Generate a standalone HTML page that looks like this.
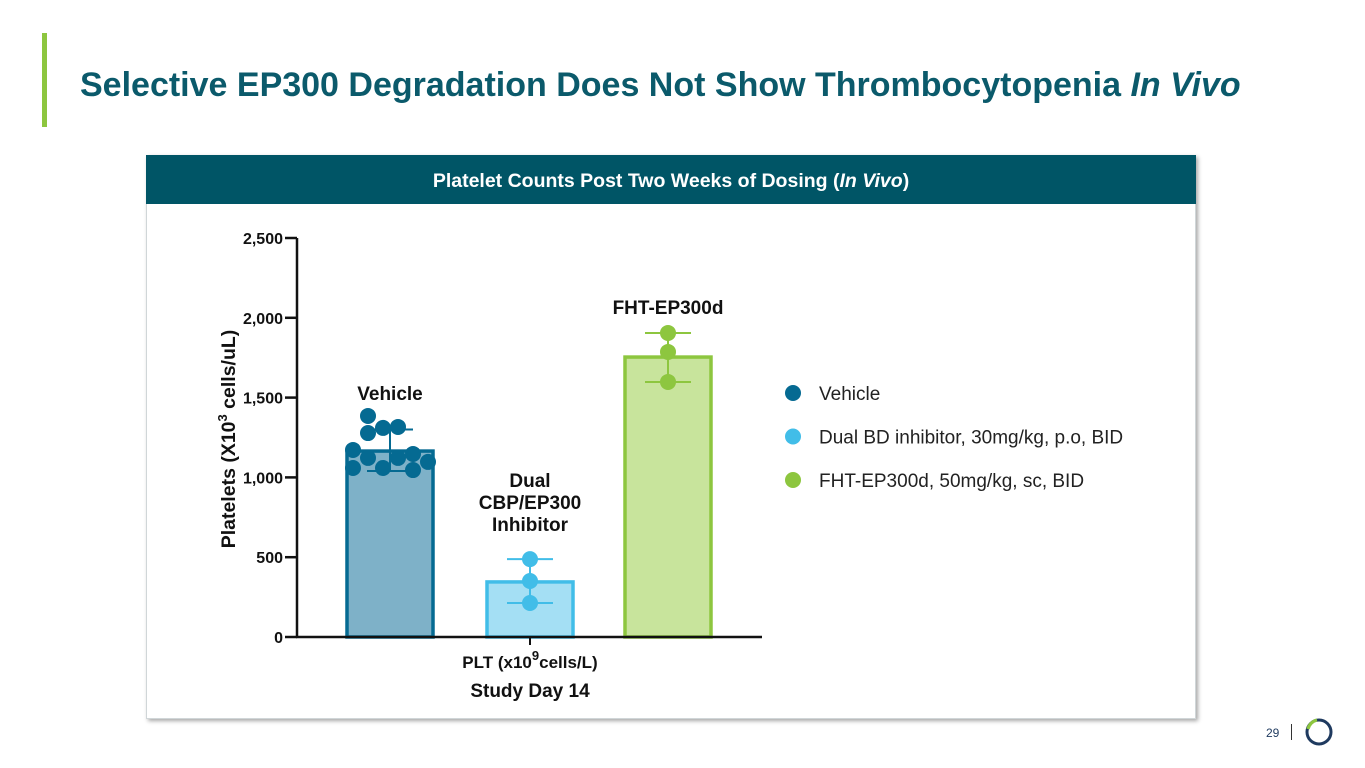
<!DOCTYPE html>
<html><head><meta charset="utf-8">
<style>
body{margin:0;width:1365px;height:768px;background:#fff;position:relative;overflow:hidden;font-family:"Liberation Sans",Arial,sans-serif}
.abs{position:absolute}
</style></head><body>
<div class="abs" style="left:42px;top:33px;width:5px;height:94px;background:#8dc63f"></div>
<div class="abs" style="left:80px;top:66px;font-size:34px;font-weight:bold;color:#0b5a6b;white-space:nowrap">Selective EP300 Degradation Does Not Show Thrombocytopenia <i>In Vivo</i></div>
<div class="abs" style="left:146px;top:155px;width:1048px;height:562px;border:1px solid #d0d6d8;box-shadow:2px 2px 4px rgba(0,0,0,0.35);background:#fff"></div>
<div class="abs" style="left:146px;top:155px;width:1050px;height:49px;background:#005566;color:#fff;font-size:19.5px;font-weight:bold;text-align:center;line-height:52px">Platelet Counts Post Two Weeks of Dosing (<i>In Vivo</i>)</div>
<svg class="abs" style="left:0;top:0" width="1365" height="768">
<g id="g"></g>
</svg>
<div class="abs" style="left:1266px;top:726px;font-size:12px;color:#1f3a5f">29</div>
<div class="abs" style="left:1291px;top:724px;width:1px;height:16px;background:#333"></div>
<svg class="abs" style="left:1303px;top:716px" width="32" height="32">
<circle cx="16" cy="16" r="12" fill="none" stroke="#1f3a5f" stroke-width="3"/>
<path d="M5 13 A12 12 0 0 1 14 4" fill="none" stroke="#8dc63f" stroke-width="3.2"/>
</svg>
<script>
const categories=["Vehicle","Dual CBP/EP300 Inhibitor","FHT-EP300d"];
const means=[1165,345,1754];
const errLow=[1040,213,1598];
const errHigh=[1300,488,1905];
const pts0=[1172,1059,1385,1278,1122,1310,1059,1316,1122,1147,1046,1097];
const pts1=[488,351,213];
const pts2=[1905,1786,1598];
const yTicks=[0,500,1000,1500,2000,2500];
const yTickLabels=["0","500","1,000","1,500","2,000","2,500"];
const legendLabels=["Vehicle","Dual BD inhibitor, 30mg/kg, p.o, BID","FHT-EP300d, 50mg/kg, sc, BID"];
const jit0=[-37,-37,-22,-22,-22,-7,-7,8,8,23,23,38];
const NS="http://www.w3.org/2000/svg";
const g=document.getElementById('g');
const y0=637,yTop=238,yMax=2500;
const Y=v=>y0-(v/yMax)*(y0-yTop);
const centers=[390,530,668];
const X=i=>centers[i];
const fills=["#7eb1c8","#a4dff4","#c8e49c"],strokes=["#056a92","#41bde8","#8dc63f"],dots=["#056a92","#41bde8","#8dc63f"];
function el(t,a,txt){const e=document.createElementNS(NS,t);for(const k in a)e.setAttribute(k,a[k]);if(txt!==undefined)e.textContent=txt;g.appendChild(e);return e;}
means.forEach((m,i)=>{
 const b=el('rect',{x:X(i)-43,y:Y(m),width:86,height:y0-Y(m),fill:fills[i],stroke:strokes[i],'stroke-width':3.5});
 
 
});
const allPts=[pts0,pts1,pts2];
means.forEach((m,i)=>{
 const c=X(i);
 const e1=el('line',{x1:c,x2:c,y1:Y(errHigh[i]),y2:Y(errLow[i]),stroke:strokes[i],'stroke-width':2});
 
 
 [errHigh[i],errLow[i]].forEach(v=>{const cp=el('line',{x1:c-23,x2:c+23,y1:Y(v),y2:Y(v),stroke:strokes[i],'stroke-width':2});
 
 });
 allPts[i].forEach((v,j)=>{
  const dx=i===0?jit0[j]:0;
  const p=el('circle',{cx:c+dx,cy:Y(v),r:8,fill:dots[i]});
  
  
 });
});
const ya=el('line',{x1:297,x2:297,y1:yTop,y2:y0+1,stroke:'#111','stroke-width':2.5});


const xa=el('line',{x1:296,x2:762,y1:y0,y2:y0,stroke:'#111','stroke-width':2.5});


el('line',{x1:530,x2:530,y1:y0,y2:y0+8,stroke:'#111','stroke-width':2});
yTicks.forEach((v,i)=>{
 el('line',{x1:285,x2:297,y1:Y(v),y2:Y(v),stroke:'#111','stroke-width':2.5});
 const t=el('text',{x:283,y:Y(v)+6,'text-anchor':'end','font-size':16,'font-weight':'bold',fill:'#111'},yTickLabels[i]);
 
 
});
const yt=el('text',{transform:'translate(235,439) rotate(-90)','text-anchor':'middle','font-size':19.5,'font-weight':'bold',fill:'#111'});


yt.innerHTML='Platelets  (X10<tspan dy="-8" font-size="13">3</tspan><tspan dy="8"> cells/uL)</tspan>';
const xt=el('text',{x:530,y:668,'text-anchor':'middle','font-size':17,'font-weight':'bold',fill:'#111'});


xt.innerHTML='PLT (x10<tspan dy="-8" font-size="13">9</tspan><tspan dy="8">cells/L)</tspan>';
const xt2=el('text',{x:530,y:697,'text-anchor':'middle','font-size':19,'font-weight':'bold',fill:'#111'},'Study Day 14');


const l0=el('text',{x:390,y:400,'text-anchor':'middle','font-size':19,'font-weight':'bold',fill:'#111'},'Vehicle');


[["Dual",487],["CBP/EP300",509],["Inhibitor",531]].forEach(([s,y])=>{
 const t=el('text',{x:530,y:y,'text-anchor':'middle','font-size':19,'font-weight':'bold',fill:'#111'},s);
 
 
});
const l2=el('text',{x:668,y:314,'text-anchor':'middle','font-size':19,'font-weight':'bold',fill:'#111'},'FHT-EP300d');


legendLabels.forEach((s,i)=>{
 const yy=393+i*43.5;
 const d=el('circle',{cx:793,cy:yy,r:8,fill:dots[i]});
 
 
 const t=el('text',{x:819,y:yy+7,'font-size':19,fill:'#222'},s);
 
 
});
</script>
</body></html>
